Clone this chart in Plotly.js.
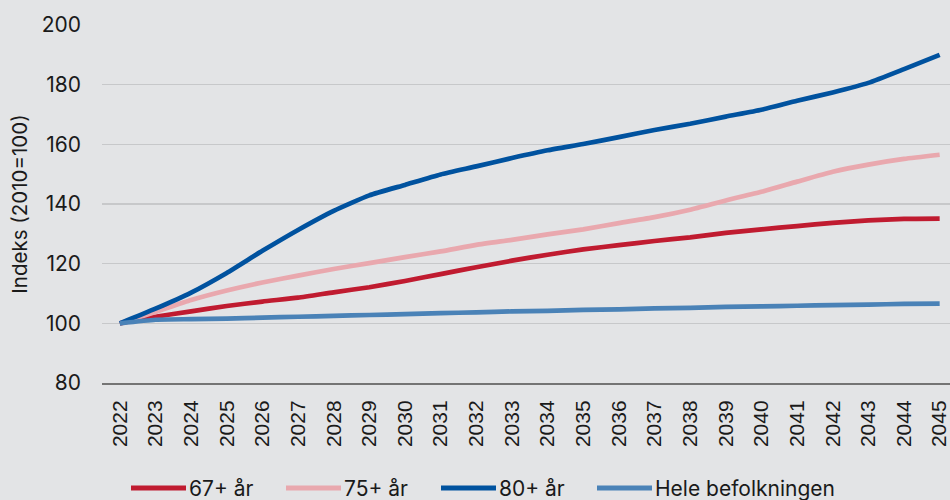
<!DOCTYPE html>
<html>
<head>
<meta charset="utf-8">
<script src="https://cdn.plot.ly/plotly-3.0.1.min.js"></script>
<style>
  html, body { margin: 0; padding: 0; background: #e3e4e6; }
  #chart { width: 950px; height: 500px; }
</style>
</head>
<body>
<div id="chart"></div>
<script>
// Befolkningsframskriving, indeks per år
const years = ['2022','2023','2024','2025','2026','2027','2028','2029','2030','2031','2032','2033',
               '2034','2035','2036','2037','2038','2039','2040','2041','2042','2043','2044','2045'];

const age67 = [100, 102.2, 104.0, 105.8, 107.3, 108.6, 110.4, 112.1, 114.2, 116.5, 118.8, 121.0,
               123.0, 124.8, 126.2, 127.6, 128.8, 130.3, 131.5, 132.6, 133.7, 134.5, 135.0, 135.1];
const age75 = [100, 103.8, 107.8, 111.0, 113.7, 116.0, 118.2, 120.2, 122.2, 124.1, 126.3, 128.0,
               129.8, 131.5, 133.6, 135.6, 138.1, 141.2, 144.1, 147.5, 150.8, 153.2, 155.1, 156.5];
const age80 = [100, 104.9, 110.3, 116.9, 124.3, 131.3, 137.7, 142.9, 146.4, 149.9, 152.6, 155.4,
               158.0, 160.1, 162.4, 164.8, 166.9, 169.3, 171.6, 174.6, 177.4, 180.6, 185.2, 190.0];
const total  = [100, 101.2, 101.4, 101.6, 101.9, 102.2, 102.5, 102.8, 103.1, 103.4, 103.7, 104.0,
               104.2, 104.5, 104.7, 105.0, 105.2, 105.5, 105.7, 105.9, 106.1, 106.3, 106.5, 106.6];

const seriesNames  = ['67+ år', '75+ år', '80+ år', 'Hele befolkningen'];
const seriesValues = [age67, age75, age80, total];
const seriesColors = ['#c01b30', '#e9a8ae', '#00529f', '#4a82b7'];

const yTicks = [80, 100, 120, 140, 160, 180, 200];

// plot area in pixels
const W = 950, H = 500;
const M = { l: 102, r: 0, t: 25, b: 117 };
const PW = W - M.l - M.r, PH = H - M.t - M.b;
const px2x = px => (px - M.l) / PW;
const px2y = py => (H - M.b - py) / PH;

const traces = seriesValues.map((vals, i) => ({
  type: 'scatter',
  mode: 'lines',
  name: seriesNames[i],
  x: years,
  y: vals,
  line: { color: seriesColors[i], width: 4.7, shape: 'spline', smoothing: 0.5 },
  showlegend: false,
  hoverinfo: 'skip'
}));

// legend drawn underneath the axis: short thick line + label per series
const legendStartPx = [131, 286, 441, 597];
const legendLinePx = 55;
const legendYpx = 488;
const shapes = [];
const annotations = [];
seriesNames.forEach((name, i) => {
  const x0 = legendStartPx[i];
  shapes.push({
    type: 'line', xref: 'paper', yref: 'paper',
    x0: px2x(x0), x1: px2x(x0 + legendLinePx),
    y0: px2y(legendYpx), y1: px2y(legendYpx),
    line: { color: seriesColors[i], width: 5 }
  });
  annotations.push({
    xref: 'paper', yref: 'paper',
    x: px2x(x0 + legendLinePx + 1), y: px2y(legendYpx),
    xanchor: 'left', yanchor: 'middle',
    text: name, showarrow: false,
    font: { family: 'Inter, sans-serif', size: 21, color: '#1a1a1a' }
  });
});

const layout = {
  width: W, height: H,
  margin: M,
  paper_bgcolor: '#e3e4e6',
  plot_bgcolor: '#e3e4e6',
  showlegend: false,
  xaxis: {
    type: 'category',
    range: [-0.5, 23.29],
    showgrid: false,
    zeroline: false,
    showline: true,
    linecolor: '#747474',
    linewidth: 2,
    ticks: '',
    tickangle: -90,
    ticklabelstandoff: 7,
    tickfont: { family: '"Liberation Sans", Arial, sans-serif', size: 21, color: '#1a1a1a' },
    fixedrange: true
  },
  yaxis: {
    range: [80, 200],
    tickvals: yTicks,
    showgrid: true,
    gridcolor: '#c7c8ca',
    gridwidth: 1.5,
    zeroline: false,
    showline: false,
    ticks: '',
    ticklabelstandoff: 20,
    tickfont: { family: 'Inter, sans-serif', size: 21, color: '#1a1a1a' },
    title: {
      text: 'Indeks (2010=100)',
      font: { family: 'Inter, sans-serif', size: 20.5, color: '#1a1a1a' },
      standoff: 8
    },
    fixedrange: true
  },
  shapes: shapes,
  annotations: annotations
};

Plotly.newPlot('chart', traces, layout, { displayModeBar: false, staticPlot: true });
</script>
</body>
</html>
